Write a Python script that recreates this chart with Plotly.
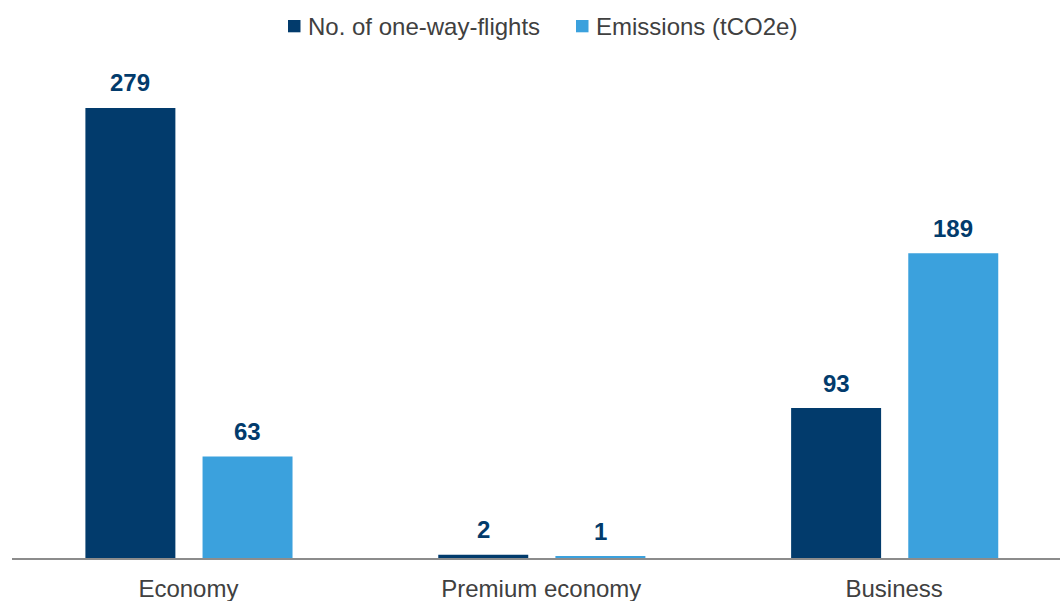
import plotly.graph_objects as go

# Flight class breakdown
categories = ["Economy", "Premium economy", "Business"]
flights = [279, 2, 93]
emissions = [63, 1, 189]

series_names = ["No. of one-way-flights", "Emissions (tCO2e)"]
navy = "#023B6C"
sky = "#3BA1DD"
label_font = "Liberation Sans, Arial, sans-serif"
text_grey = "#404040"

# bar placement within each category slot (in category units)
bar_width = 0.255
offsets = [-0.292, 0.040]

# figure geometry in pixels
W, H = 1060, 601
M_L, M_R, M_T, M_B = 12, 0, 60, 43
plot_w = W - M_L - M_R
plot_h = H - M_T - M_B


def px_x(px):
    return (px - M_L) / plot_w


def px_y(py):
    return (H - M_B - py) / plot_h


fig = go.Figure()
for name, vals, color, off in zip(series_names, [flights, emissions], [navy, sky], offsets):
    fig.add_trace(go.Bar(
        x=categories, y=vals, name=name,
        marker=dict(color=color, line=dict(width=0)),
        width=bar_width, offset=off, showlegend=False,
    ))
    for i, v in enumerate(vals):
        fig.add_annotation(
            x=i + off + bar_width / 2, y=v, text=f"<b>{v}</b>",
            showarrow=False, yanchor="middle", yshift=25,
            font=dict(family=label_font, size=24, color=navy),
        )

# legend row: coloured square followed by the series name
legend_items = [(series_names[0], navy, 288), (series_names[1], sky, 576)]
for name, color, left in legend_items:
    fig.add_shape(
        type="rect", xref="paper", yref="paper",
        x0=px_x(left), x1=px_x(left + 12.5), y0=px_y(32.3), y1=px_y(20),
        fillcolor=color, line=dict(width=0),
    )
    fig.add_annotation(
        xref="paper", yref="paper", x=px_x(left + 18), y=px_y(26),
        xanchor="left", yanchor="middle", showarrow=False, text=name,
        font=dict(family=label_font, size=24, color=text_grey),
    )

fig.update_layout(
    width=W, height=H,
    margin=dict(l=M_L, r=M_R, t=M_T, b=M_B),
    paper_bgcolor="white", plot_bgcolor="white",
    barmode="group",
    showlegend=False,
    font=dict(family=label_font, color=text_grey),
)
fig.update_xaxes(
    type="category", range=[-0.5, 2.47],
    showline=True, linecolor="#8C8C8C", linewidth=2,
    ticks="", showgrid=False, zeroline=False,
    tickfont=dict(family=label_font, size=24, color=text_grey),
    ticklabelstandoff=8,
)
fig.update_yaxes(
    range=[0, 308.75], visible=False, showgrid=False, zeroline=False,
)

fig.write_html("out.html")
